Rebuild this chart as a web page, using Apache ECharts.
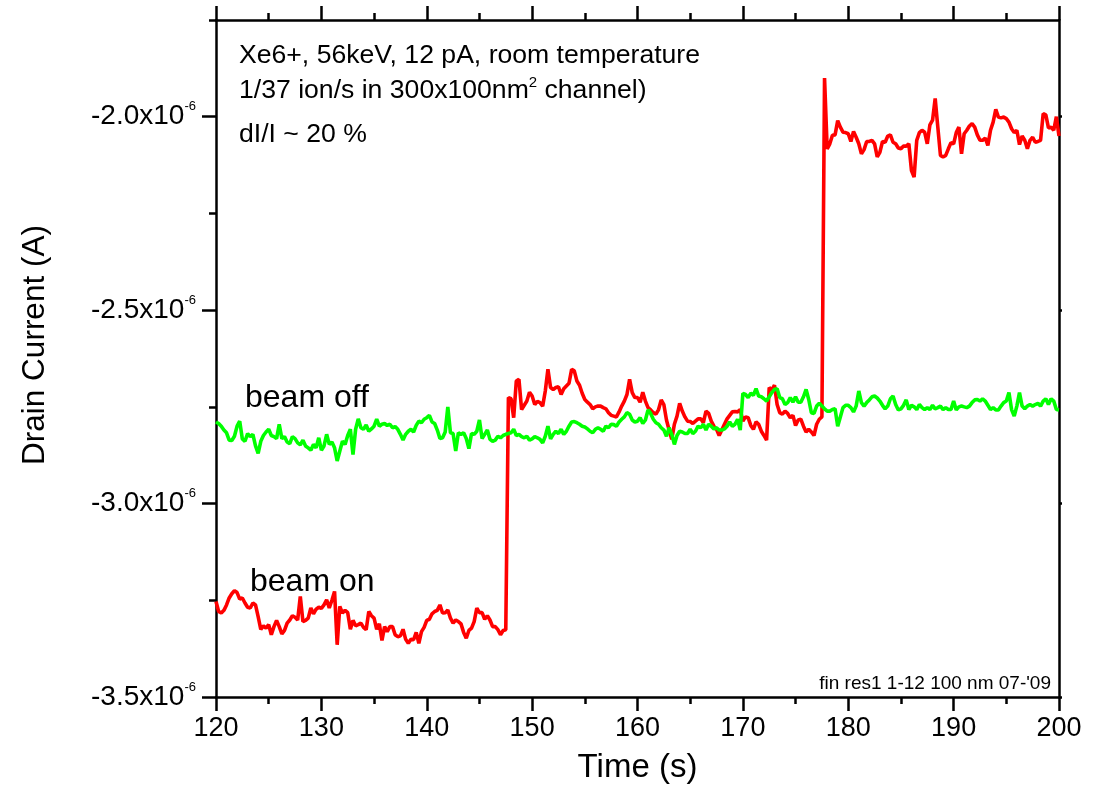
<!DOCTYPE html>
<html>
<head>
<meta charset="utf-8">
<script src="https://cdn.jsdelivr.net/npm/echarts@6/dist/echarts.min.js"></script>
<style>
  html, body { margin: 0; padding: 0; background: #ffffff; }
  #chart { width: 1094px; height: 801px; }
</style>
</head>
<body>
<div id="chart"></div>
<script>
// Sampling of both traces: first sample time (s) and step between samples (s)
const T0 = 120;
const DT = 0.25;

// Drain current with the ion beam on, in units of 1e-6 A (one value per sample)
const beamOnCurrent = [
  -3.253,-3.279,-3.283,-3.276,-3.262,-3.244,-3.233,-3.225,-3.230,-3.247,
  -3.244,-3.257,-3.268,-3.270,-3.257,-3.262,-3.292,-3.325,-3.316,-3.322,
  -3.313,-3.339,-3.318,-3.302,-3.318,-3.337,-3.328,-3.309,-3.301,-3.290,
  -3.294,-3.301,-3.240,-3.305,-3.302,-3.296,-3.270,-3.285,-3.273,-3.268,
  -3.271,-3.262,-3.249,-3.270,-3.250,-3.227,-3.365,-3.266,-3.283,-3.276,
  -3.282,-3.325,-3.302,-3.316,-3.313,-3.309,-3.320,-3.326,-3.279,-3.290,
  -3.296,-3.325,-3.311,-3.354,-3.318,-3.331,-3.318,-3.318,-3.339,-3.344,
  -3.342,-3.325,-3.351,-3.361,-3.351,-3.352,-3.333,-3.361,-3.331,-3.320,
  -3.302,-3.299,-3.285,-3.279,-3.276,-3.262,-3.283,-3.282,-3.275,-3.296,
  -3.309,-3.301,-3.305,-3.311,-3.333,-3.348,-3.328,-3.322,-3.305,-3.270,
  -3.282,-3.282,-3.299,-3.290,-3.301,-3.318,-3.318,-3.326,-3.339,-3.328,-3.326,
  -2.726,-2.729,-2.778,-2.683,-2.679,-2.757,-2.746,-2.735,-2.712,-2.722,
  -2.744,-2.736,-2.739,-2.748,-2.709,-2.653,-2.700,-2.705,-2.700,-2.698,
  -2.718,-2.703,-2.696,-2.689,-2.653,-2.657,-2.683,-2.694,-2.715,-2.731,
  -2.738,-2.744,-2.755,-2.750,-2.748,-2.748,-2.752,-2.755,-2.765,-2.772,
  -2.774,-2.776,-2.763,-2.748,-2.735,-2.718,-2.679,-2.713,-2.726,-2.726,
  -2.738,-2.712,-2.735,-2.752,-2.758,-2.765,-2.769,-2.757,-2.732,-2.744,
  -2.784,-2.810,-2.834,-2.795,-2.774,-2.741,-2.761,-2.776,-2.787,-2.788,
  -2.793,-2.787,-2.781,-2.781,-2.791,-2.761,-2.767,-2.787,-2.800,-2.808,
  -2.824,-2.810,-2.795,-2.781,-2.772,-2.763,-2.762,-2.763,-2.757,-2.787,
  -2.776,-2.778,-2.798,-2.808,-2.789,-2.795,-2.813,-2.824,-2.836,-2.700,
  -2.706,-2.694,-2.744,-2.765,-2.769,-2.761,-2.767,-2.778,-2.772,-2.798,
  -2.784,-2.782,-2.800,-2.815,-2.808,-2.815,-2.824,-2.795,-2.782,-2.776,
  -1.900,-2.083,-2.070,-2.048,-2.047,-2.010,-2.027,-2.040,-2.041,-2.044,
  -2.064,-2.038,-2.053,-2.070,-2.096,-2.085,-2.064,-2.064,-2.061,-2.070,
  -2.104,-2.092,-2.064,-2.066,-2.050,-2.047,-2.066,-2.070,-2.081,-2.083,
  -2.076,-2.076,-2.070,-2.139,-2.156,-2.061,-2.041,-2.035,-2.040,-2.070,
  -2.021,-2.009,-1.953,-2.027,-2.100,-2.104,-2.100,-2.083,-2.067,-2.070,
  -2.041,-2.027,-2.096,-2.044,-2.035,-2.024,-2.018,-2.027,-2.047,-2.061,
  -2.061,-2.055,-2.074,-2.035,-2.014,-1.981,-2.001,-2.003,-2.001,-2.005,
  -2.014,-2.031,-2.041,-2.035,-2.072,-2.050,-2.061,-2.083,-2.061,-2.053,
  -2.066,-2.064,-2.061,-1.992,-1.995,-2.029,-2.027,-2.035,-2.000,-2.050
];

// Drain current with the ion beam off, in units of 1e-6 A
const beamOffCurrent = [
  -2.789,-2.793,-2.800,-2.810,-2.817,-2.836,-2.837,-2.826,-2.800,-2.787,
  -2.833,-2.839,-2.819,-2.827,-2.821,-2.851,-2.870,-2.839,-2.824,-2.815,
  -2.808,-2.824,-2.827,-2.832,-2.795,-2.832,-2.827,-2.841,-2.845,-2.827,
  -2.832,-2.843,-2.848,-2.836,-2.851,-2.856,-2.862,-2.847,-2.856,-2.830,
  -2.862,-2.851,-2.821,-2.847,-2.841,-2.856,-2.890,-2.864,-2.839,-2.847,
  -2.824,-2.808,-2.873,-2.808,-2.781,-2.804,-2.808,-2.797,-2.813,-2.807,
  -2.800,-2.782,-2.800,-2.795,-2.793,-2.798,-2.795,-2.804,-2.801,-2.808,
  -2.821,-2.836,-2.821,-2.813,-2.808,-2.815,-2.798,-2.787,-2.791,-2.782,
  -2.778,-2.772,-2.789,-2.793,-2.810,-2.832,-2.830,-2.815,-2.750,-2.817,
  -2.819,-2.864,-2.817,-2.821,-2.817,-2.832,-2.858,-2.819,-2.821,-2.813,
  -2.784,-2.832,-2.821,-2.810,-2.834,-2.839,-2.836,-2.826,-2.830,-2.824,
  -2.821,-2.819,-2.817,-2.808,-2.824,-2.821,-2.827,-2.830,-2.826,-2.836,
  -2.833,-2.827,-2.830,-2.834,-2.843,-2.826,-2.800,-2.833,-2.821,-2.813,
  -2.819,-2.808,-2.821,-2.813,-2.800,-2.789,-2.788,-2.791,-2.795,-2.800,
  -2.802,-2.807,-2.813,-2.817,-2.808,-2.804,-2.808,-2.813,-2.800,-2.804,
  -2.795,-2.796,-2.800,-2.789,-2.782,-2.776,-2.765,-2.769,-2.784,-2.789,
  -2.787,-2.778,-2.793,-2.784,-2.758,-2.767,-2.782,-2.791,-2.795,-2.804,
  -2.810,-2.826,-2.804,-2.821,-2.847,-2.824,-2.813,-2.815,-2.819,-2.819,
  -2.808,-2.819,-2.813,-2.800,-2.804,-2.795,-2.810,-2.795,-2.800,-2.807,
  -2.804,-2.810,-2.810,-2.807,-2.800,-2.789,-2.800,-2.795,-2.782,-2.810,
  -2.715,-2.718,-2.726,-2.715,-2.720,-2.703,-2.722,-2.724,-2.729,-2.735,
  -2.724,-2.713,-2.705,-2.703,-2.726,-2.729,-2.744,-2.739,-2.726,-2.738,
  -2.724,-2.738,-2.738,-2.724,-2.705,-2.731,-2.765,-2.767,-2.748,-2.741,
  -2.748,-2.755,-2.761,-2.761,-2.757,-2.755,-2.800,-2.776,-2.752,-2.746,
  -2.746,-2.752,-2.763,-2.748,-2.709,-2.739,-2.748,-2.739,-2.732,-2.724,
  -2.722,-2.727,-2.735,-2.746,-2.755,-2.748,-2.729,-2.722,-2.744,-2.758,
  -2.755,-2.746,-2.732,-2.757,-2.746,-2.750,-2.757,-2.744,-2.752,-2.757,
  -2.752,-2.757,-2.746,-2.755,-2.752,-2.748,-2.757,-2.752,-2.757,-2.757,
  -2.735,-2.758,-2.750,-2.748,-2.750,-2.752,-2.748,-2.739,-2.732,-2.731,
  -2.735,-2.729,-2.735,-2.746,-2.757,-2.752,-2.758,-2.758,-2.748,-2.739,
  -2.735,-2.713,-2.757,-2.774,-2.748,-2.713,-2.748,-2.755,-2.748,-2.744,
  -2.748,-2.744,-2.741,-2.748,-2.735,-2.729,-2.744,-2.729,-2.735,-2.757,-2.758
];

// Axis ticks (current in 1e-6 A, time in s)
const currentMajorTicks = [-3.5, -3.0, -2.5, -2.0];
const currentMinorTicks = [-3.25, -2.75, -2.25, -1.75];
const timeRange = [120, 200];
const currentRange = [-3.5, -1.75];

// Annotation text
const noteLines = [
  'Xe6+, 56keV, 12 pA, room temperature',
  ['1/37 ion/s in 300x100nm', '2', ' channel)'],
  'dI/I ~ 20 %'
];
const traceLabels = ['beam on', 'beam off'];
const stampText = "fin res1 1-12 100 nm 07-'09";

const FONT = '"Liberation Sans", Arial, Helvetica, sans-serif';
const BLACK = '#000000';

const toPoints = (vals) => vals.map((v, i) => [T0 + DT * i, v]);

const chart = echarts.init(document.getElementById('chart'), null, { renderer: 'canvas' });

const axisLineStyle = { color: BLACK, width: 2.5 };
const tickLineStyle = { color: BLACK, width: 2.5 };

const baseX = {
  type: 'value', min: timeRange[0], max: timeRange[1], interval: 10,
  splitLine: { show: false },
  axisLine: { show: true, onZero: false, lineStyle: axisLineStyle },
  axisTick: { show: true, inside: false, length: 14, lineStyle: tickLineStyle },
  minorTick: { show: true, splitNumber: 2, length: 7, lineStyle: tickLineStyle }
};

const baseY = {
  type: 'value', min: currentRange[0], max: currentRange[1], interval: 0.5,
  splitLine: { show: false },
  axisLine: { show: true, onZero: false, lineStyle: axisLineStyle }
};

const option = {
  animation: false,
  backgroundColor: '#ffffff',
  grid: { left: 216, right: 35, top: 20, bottom: 104, containLabel: false },
  xAxis: [
    Object.assign({}, baseX, {
      position: 'bottom',
      axisLabel: { show: true, color: BLACK, fontFamily: FONT, fontSize: 27, margin: 18 },
      name: 'Time (s)', nameLocation: 'middle', nameGap: 54,
      nameTextStyle: { color: BLACK, fontFamily: FONT, fontSize: 33 }
    }),
    Object.assign({}, baseX, {
      position: 'top',
      axisLabel: { show: false }
    })
  ],
  yAxis: [
    Object.assign({}, baseY, {
      position: 'left',
      axisTick: { show: true, inside: false, length: 14, lineStyle: tickLineStyle, customValues: currentMajorTicks },
      axisLabel: {
        show: true, margin: 20, customValues: currentMajorTicks,
        formatter: (v) => `{m|${Number(v).toFixed(1)}x10}{s|-6}`,
        rich: {
          m: { color: BLACK, fontFamily: FONT, fontSize: 28 },
          s: { color: BLACK, fontFamily: FONT, fontSize: 13, padding: [0, 0, 20, 0] }
        }
      }
    }),
    Object.assign({}, baseY, {
      position: 'left',
      axisLine: { show: false },
      axisTick: { show: true, inside: false, length: 7, lineStyle: tickLineStyle, customValues: currentMinorTicks },
      axisLabel: { show: false }
    }),
    Object.assign({}, baseY, {
      position: 'right',
      axisTick: { show: true, inside: false, length: 3, lineStyle: tickLineStyle, customValues: currentMajorTicks },
      axisLabel: { show: false }
    })
  ],
  series: [
    {
      name: traceLabels[0], type: 'line', xAxisIndex: 0, yAxisIndex: 0,
      data: toPoints(beamOnCurrent), showSymbol: false, symbol: 'none',
      lineStyle: { color: '#ff0000', width: 3.6 }, itemStyle: { color: '#ff0000' },
      clip: true, z: 2
    },
    {
      name: traceLabels[1], type: 'line', xAxisIndex: 0, yAxisIndex: 0,
      data: toPoints(beamOffCurrent), showSymbol: false, symbol: 'none',
      lineStyle: { color: '#00ff00', width: 3.6 }, itemStyle: { color: '#00ff00' },
      clip: true, z: 3
    }
  ],
  graphic: [
    {
      type: 'text', x: 35, y: 345, rotation: Math.PI / 2,
      style: { text: 'Drain Current (A)', fill: BLACK, font: `31.5px ${FONT}`, align: 'center', verticalAlign: 'middle' }
    },
    {
      type: 'text', x: 239, y: 56,
      style: { text: noteLines[0], fill: BLACK, font: `26.6px ${FONT}`, align: 'left', verticalAlign: 'middle' }
    },
    {
      type: 'text', x: 239, y: 91,
      style: {
        text: `{m|${noteLines[1][0]}}{s|${noteLines[1][1]}}{m|${noteLines[1][2]}}`,
        align: 'left', verticalAlign: 'middle',
        rich: {
          m: { fill: BLACK, fontFamily: FONT, fontSize: 26.6 },
          s: { fill: BLACK, fontFamily: FONT, fontSize: 15, padding: [0, 0, 16, 0] }
        }
      }
    },
    {
      type: 'text', x: 239, y: 135,
      style: { text: noteLines[2], fill: BLACK, font: `26.6px ${FONT}`, align: 'left', verticalAlign: 'middle' }
    },
    {
      type: 'text', x: 245, y: 398,
      style: { text: traceLabels[1], fill: BLACK, font: `32px ${FONT}`, align: 'left', verticalAlign: 'middle' }
    },
    {
      type: 'text', x: 250, y: 582,
      style: { text: traceLabels[0], fill: BLACK, font: `32px ${FONT}`, align: 'left', verticalAlign: 'middle' }
    },
    {
      type: 'text', x: 1051, y: 684,
      style: { text: stampText, fill: BLACK, font: `19px "Liberation Sans Narrow", ${FONT}`, align: 'right', verticalAlign: 'middle' }
    }
  ]
};

chart.setOption(option);
</script>
</body>
</html>
